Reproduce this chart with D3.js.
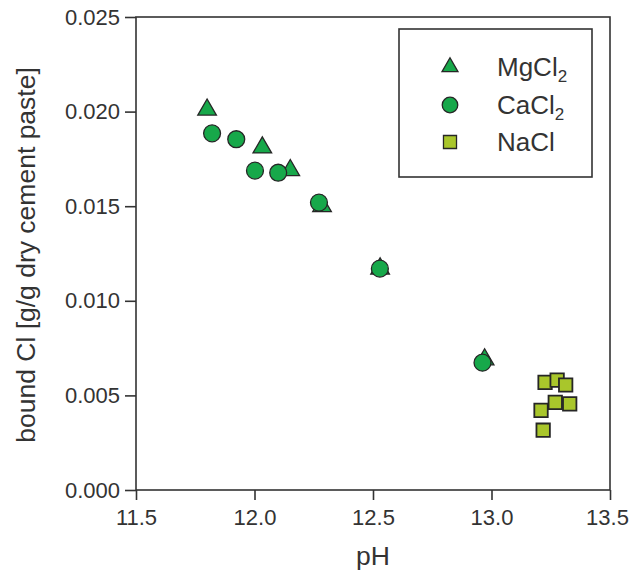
<!DOCTYPE html>
<html>
<head>
<meta charset="utf-8">
<script src="https://cdn.jsdelivr.net/npm/d3@7"></script>
<style>
  html, body { margin: 0; padding: 0; background: #fff; }
  svg { display: block; font-family: "Liberation Sans", Arial, Helvetica, sans-serif; }
</style>
</head>
<body>
<svg id="chart" width="630" height="576"></svg>
<script>
// ---- data ----
const mgPH  = [11.80, 12.033, 12.151, 12.285, 12.53, 12.971];
const mgCl  = [0.0201, 0.0181, 0.0169, 0.0150, 0.0117, 0.0069];
const caPH  = [11.821, 11.923, 12.002, 12.100, 12.272, 12.529, 12.962];
const caCl  = [0.01885, 0.01854, 0.01688, 0.01677, 0.01519, 0.0117, 0.00673];
const naPH  = [13.226, 13.277, 13.313, 13.269, 13.330, 13.209, 13.218];
const naCl  = [0.00569, 0.00581, 0.00555, 0.00463, 0.00455, 0.00421, 0.00316];
const xTicks = [11.5, 12.0, 12.5, 13.0, 13.5];
const yTicks = [0.000, 0.005, 0.010, 0.015, 0.020, 0.025];
const seriesNames = ["MgCl", "CaCl", "NaCl"];
const seriesSubs = ["2", "2", ""];

(function () {
const green = "#17a84a", lime = "#a9c62b", edge = "#262626", ink = "#333";

const svg = d3.select("#chart");
const pL = 136, pR = 610, pT = 17, pB = 490;
const x = d3.scaleLinear().domain([11.5, 13.5]).range([pL, pR]);
const y = d3.scaleLinear().domain([0, 0.025]).range([pB, pT]);

// frame
svg.append("rect").attr("x", pL).attr("y", pT)
  .attr("width", pR - pL).attr("height", pB - pT)
  .attr("fill", "none").attr("stroke", ink).attr("stroke-width", 1.6);

const tickFs = 22, titleFs = 26.5, legFs = 26;
const xAxis = svg.append("g").attr("transform", `translate(0,${pB})`)
  .call(d3.axisBottom(x).tickValues(xTicks).tickFormat(d3.format(".1f")).tickSize(10).tickPadding(9));
const yAxis = svg.append("g").attr("transform", `translate(${pL},0)`)
  .call(d3.axisLeft(y).tickValues(yTicks).tickFormat(d3.format(".3f")).tickSize(11).tickPadding(5));
[xAxis, yAxis].forEach(g => {
  g.select(".domain").remove();
  g.selectAll(".tick line").attr("stroke", ink).attr("stroke-width", 1.6);
  g.selectAll(".tick text").attr("font-size", tickFs).attr("fill", ink)
    .attr("font-family", "'Liberation Sans', Arial, sans-serif");
});
// keep the last x label inside the page edge
xAxis.selectAll(".tick text").filter(d => d === 13.5).attr("dx", -3);

svg.append("text").attr("x", (pL + pR) / 2).attr("y", 565)
  .attr("text-anchor", "middle").attr("font-size", titleFs).attr("fill", ink).text("pH");
svg.append("text").attr("transform", `translate(35,255) rotate(-90)`)
  .attr("text-anchor", "middle").attr("font-size", titleFs).attr("fill", ink)
  .text("bound Cl [g/g dry cement paste]");

const tri = d3.symbol().type(d3.symbolTriangle).size(150);
const circ = d3.symbol().type(d3.symbolCircle).size(225);
const sq = d3.symbol().type(d3.symbolSquare).size(180);

// triangles (drawn first, behind circles)
svg.append("g").selectAll("path").data(d3.range(mgPH.length)).join("path")
  .attr("d", tri).attr("transform", i => `translate(${x(mgPH[i])},${y(mgCl[i])})`)
  .attr("fill", green).attr("stroke", edge).attr("stroke-width", 1.3);
svg.append("g").selectAll("path").data(d3.range(caPH.length)).join("path")
  .attr("d", circ).attr("transform", i => `translate(${x(caPH[i])},${y(caCl[i])})`)
  .attr("fill", green).attr("stroke", edge).attr("stroke-width", 1.3);
svg.append("g").selectAll("path").data(d3.range(naPH.length)).join("path")
  .attr("d", sq).attr("transform", i => `translate(${x(naPH[i])},${y(naCl[i])})`)
  .attr("fill", lime).attr("stroke", edge).attr("stroke-width", 1.8);

// legend
const lg = svg.append("g");
lg.append("rect").attr("x", 399).attr("y", 29).attr("width", 193).attr("height", 148)
  .attr("fill", "#fff").attr("stroke", ink).attr("stroke-width", 1.6);
const legY = [67, 105, 142];
const legSym = [
  d3.symbol().type(d3.symbolTriangle).size(110),
  d3.symbol().type(d3.symbolCircle).size(190),
  d3.symbol().type(d3.symbolSquare).size(170)
];
const legFill = [green, green, lime];
seriesNames.forEach((n, i) => {
  lg.append("path").attr("d", legSym[i]).attr("transform", `translate(450,${legY[i]})`)
    .attr("fill", legFill[i]).attr("stroke", edge).attr("stroke-width", 1.3);
  const t = lg.append("text").attr("x", 497).attr("y", legY[i] + 9)
    .attr("font-size", legFs).attr("fill", ink).text(n);
  if (seriesSubs[i]) t.append("tspan").attr("font-size", 17).attr("dy", 6).text(seriesSubs[i]);
});
})();
</script>
</body>
</html>
